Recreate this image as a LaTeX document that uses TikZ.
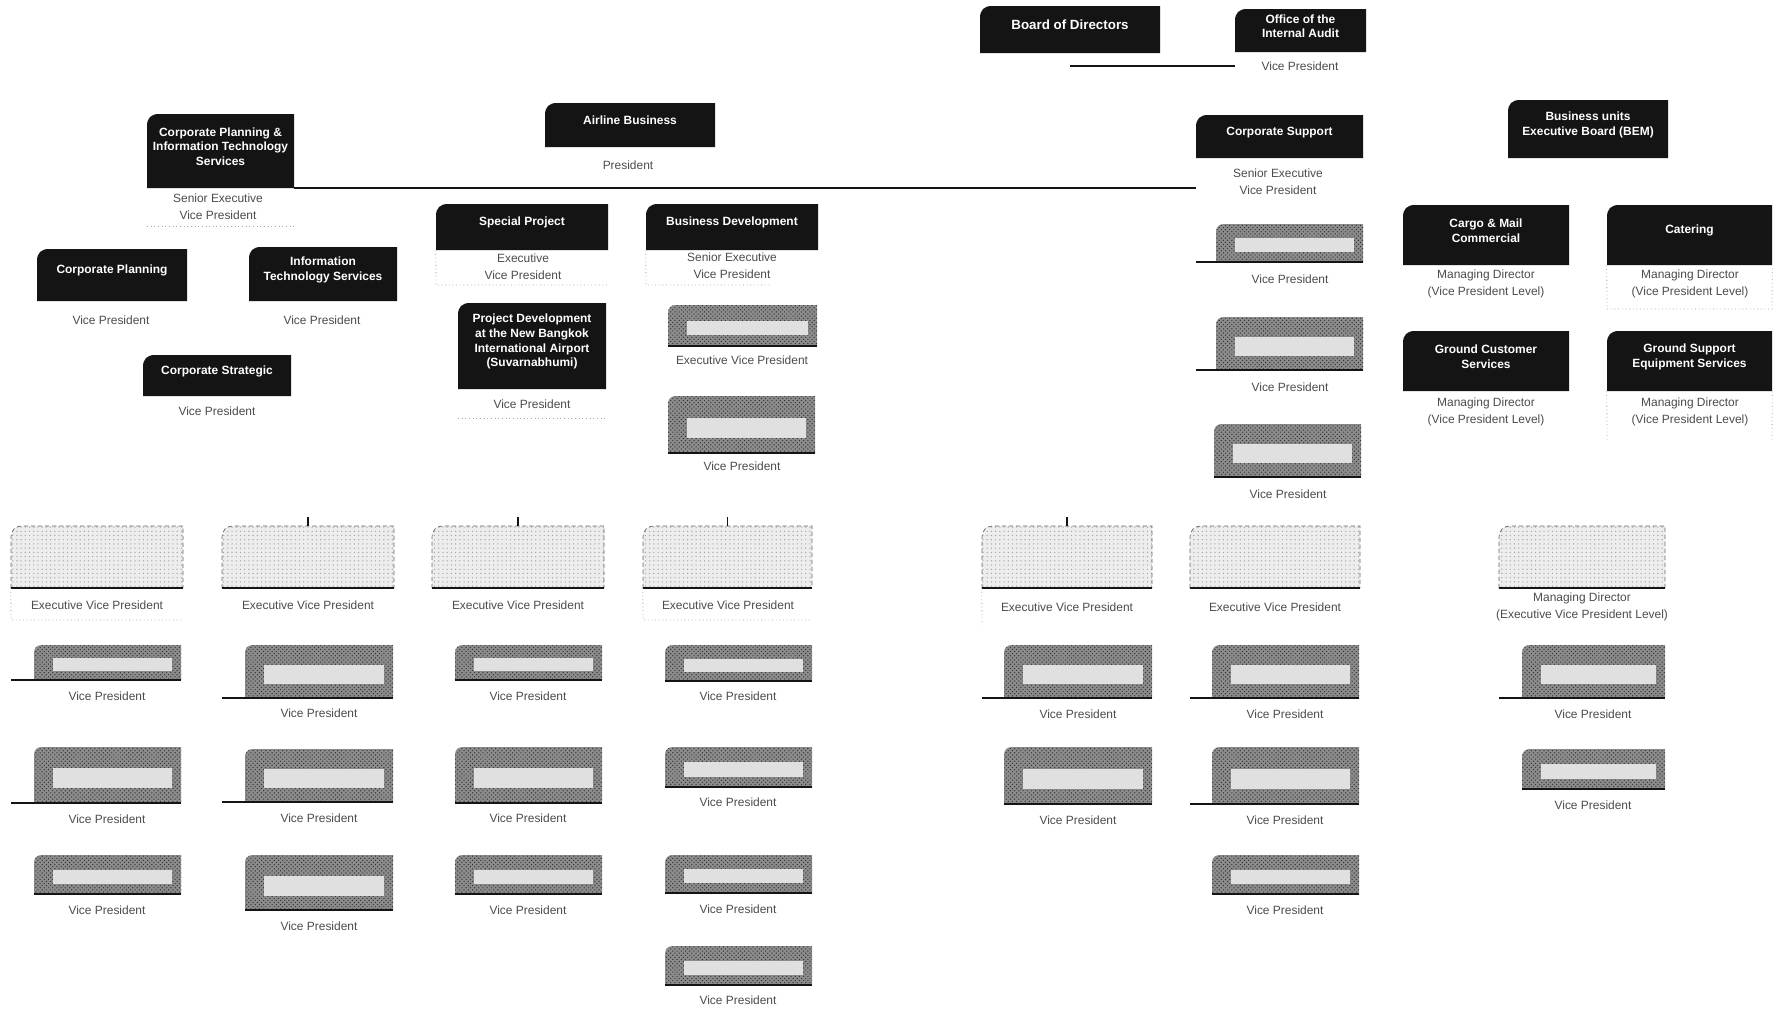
\documentclass[tikz,border=0pt]{standalone}
\usepackage{fontspec}
\setmainfont{Liberation Sans}
\usetikzlibrary{fit,calc,patterns}
\definecolor{ink}{gray}{0.08}
\definecolor{lbltxt}{gray}{0.3}
\tikzset{
  dtxt/.style={inner sep=0pt, text=white, font=\fontsize{8.5}{10.5}\selectfont\bfseries, align=center},
  lbl/.style={inner sep=0pt, text=lbltxt, font=\fontsize{8.5}{12}\selectfont, align=center},
  conn/.style={line width=1.2pt, draw=ink},
  faint/.style={dotted, draw=gray!70, line width=0.6pt},
}
% dark title box: name, x1, y1, x2, y2, text
\newcommand\DBox[6]{%
  \fill[ink] (#2,#5) -- (#2,#3+12) .. controls (#2,#3+4) and (#2+4,#3) .. (#2+12,#3) -- (#4,#3) -- (#4,#5) -- cycle;
  \path (#2,#3) coordinate (#1-a) (#4,#5) coordinate (#1-b);
  \node[dtxt, fit=(#1-a)(#1-b)] (#1) {#6};
}
% grey (illegible) vice-president box
\newcommand\GBox[5]{%
  \fill[black!45] (#2,#5) -- (#2,#3+8) .. controls (#2,#3+3) and (#2+3,#3) .. (#2+8,#3) -- (#4,#3) -- (#4,#5) -- cycle;
  \fill[pattern=crosshatch dots, pattern color=black!80] (#2,#5) -- (#2,#3+8) .. controls (#2,#3+3) and (#2+3,#3) .. (#2+8,#3) -- (#4,#3) -- (#4,#5) -- cycle;
  \fill[black!12] ({#2+0.13*(#4-#2)},{#3+0.38*(#5-#3)}) rectangle ({#4-0.06*(#4-#2)},{#3+0.74*(#5-#3)});
  \path (#2,#3) coordinate (#1-a) (#4,#5) coordinate (#1-b);
  \node[fit=(#1-a)(#1-b), inner sep=0pt] (#1) {};
  \draw[conn] (#1.south west) -- (#1.south east);
}
% light executive box
\newcommand\EBox[5]{%
  \fill[black!7] (#2,#5) -- (#2,#3+12) .. controls (#2,#3+4) and (#2+4,#3) .. (#2+12,#3) -- (#4,#3) -- (#4,#5) -- cycle;
  \fill[pattern=dots, pattern color=black!35] (#2,#5) -- (#2,#3+12) .. controls (#2,#3+4) and (#2+4,#3) .. (#2+12,#3) -- (#4,#3) -- (#4,#5) -- cycle;
  \draw[black!60, densely dashed, line width=0.5pt] (#2,#5) -- (#2,#3+12) .. controls (#2,#3+4) and (#2+4,#3) .. (#2+12,#3) -- (#4,#3) -- (#4,#5);
  \path (#2,#3) coordinate (#1-a) (#4,#5) coordinate (#1-b);
  \node[fit=(#1-a)(#1-b), inner sep=0pt] (#1) {};
  \draw[conn] (#1.south west) -- (#1.south east);
}
\begin{document}
\begin{tikzpicture}[x=0.025cm, y=-0.025cm]
\fill[white] (0,0) rectangle (1774,1008);
\useasboundingbox (0,0) rectangle (1774,1008);

% ---- top
\DBox{board}{980}{6}{1160}{53}{\fontsize{9.5}{11}\selectfont Board of Directors}
\DBox{audit}{1235}{9}{1366}{52}{Office of the\\Internal Audit}
\node[lbl] (auditl) at (1300,66) {Vice President};
\draw[conn] (board.south |- auditl) -- (auditl -| audit.west);

% ---- level 1
\DBox{cpit}{147}{114}{294}{188}{Corporate Planning \&\\Information Technology\\Services}
\node[lbl] (cpitl) at (218,207) {Senior Executive\\Vice President};
\DBox{airline}{545}{103}{715}{147}{Airline Business}
\node[lbl] (airl) at (628,165) {President};
\DBox{cs}{1196}{115}{1363}{158}{Corporate Support}
\node[lbl] (csl) at (1278,182) {Senior Executive\\Vice President};
\DBox{bem}{1508}{100}{1668}{158}{Business units\\Executive Board (BEM)}
\draw[conn] (cpit.south east) -- (cpit.south east -| cs.west);

% ---- corporate planning & IT
\DBox{cp}{37}{249}{187}{301}{Corporate Planning}
\node[lbl] (cpl) at (111,320) {Vice President};
\DBox{its}{249}{247}{397}{301}{Information\\Technology Services}
\node[lbl] (itsl) at (322,320) {Vice President};
\DBox{cstr}{143}{355}{291}{396}{Corporate Strategic}
\node[lbl] (cstrl) at (217,411) {Vice President};

% ---- airline business
\DBox{sp}{436}{204}{608}{250}{Special Project}
\node[lbl] (spl) at (523,267) {Executive\\Vice President};
\DBox{bd}{646}{204}{818}{250}{Business Development}
\node[lbl] (bdl) at (732,266) {Senior Executive\\Vice President};
\DBox{pd}{458}{303}{606}{389}{Project Development\\at the New Bangkok\\International Airport\\(Suvarnabhumi)}
\node[lbl] (pdl) at (532,404) {Vice President};
\GBox{bd1}{668}{305}{817}{346}
\node[lbl] (bd1l) at (742,360) {Executive Vice President};
\GBox{bd2}{668}{396}{815}{453}
\node[lbl] (bd2l) at (742,466) {Vice President};
\draw[faint] (sp.south west) -- (436,285) -- (608,285);
\draw[faint] (bd.south west) -- (646,285) -- (770,285);
\draw[faint] (458,418) -- (606,418);
\draw[faint] (147,226) -- (294,226);

% ---- corporate support
\GBox{cs1}{1216}{224}{1363}{262}
\node[lbl] (cs1l) at (1290,279) {Vice President};
\GBox{cs2}{1216}{317}{1363}{370}
\node[lbl] (cs2l) at (1290,387) {Vice President};
\GBox{cs3}{1214}{424}{1361}{477}
\node[lbl] (cs3l) at (1288,494) {Vice President};
\draw[conn] (cs1.south) -- (cs1.south -| cs.west);
\draw[conn] (cs2.south) -- (cs2.south -| cs.west);

% ---- business units
\DBox{cargo}{1403}{205}{1569}{265}{Cargo \& Mail\\Commercial}
\node[lbl] (cargol) at (1486,284) {Managing Director\\(Vice President Level)};
\DBox{cat}{1607}{205}{1772}{265}{Catering}
\node[lbl] (catl) at (1690,284) {Managing Director\\(Vice President Level)};
\DBox{gcs}{1403}{331}{1569}{391}{Ground Customer\\Services}
\node[lbl] (gcsl) at (1486,412) {Managing Director\\(Vice President Level)};
\DBox{gse}{1607}{331}{1772}{391}{Ground Support\\Equipment Services}
\node[lbl] (gsel) at (1690,412) {Managing Director\\(Vice President Level)};
\draw[faint] (cat.south west) -- (1607,309) -- (1772,309) -- (cat.south east);
\draw[faint] (gse.south west) -- (1607,440);
\draw[faint] (gse.south east) -- (1772,440);

% ---- bottom: executive boxes
\EBox{e1}{11}{526}{183}{588}
\node[lbl] (e1l) at (97,605) {Executive Vice President};
\EBox{e2}{222}{526}{394}{588}
\node[lbl] (e2l) at (308,605) {Executive Vice President};
\EBox{e3}{432}{526}{604}{588}
\node[lbl] (e3l) at (518,605) {Executive Vice President};
\EBox{e4}{643}{526}{812}{588}
\node[lbl] (e4l) at (728,605) {Executive Vice President};
\EBox{e5}{982}{526}{1152}{588}
\node[lbl] (e5l) at (1067,607) {Executive Vice President};
\EBox{e6}{1190}{526}{1360}{588}
\node[lbl] (e6l) at (1275,607) {Executive Vice President};
\EBox{e7}{1499}{526}{1665}{588}
\node[lbl] (e7l) at (1582,607) {Managing Director\\(Executive Vice President Level)};
\foreach \e in {e2,e3,e4,e5}{\draw[conn] (\e.north) -- ++(0,-9);}
\draw[faint] (e1.south west) -- (11,620) -- (183,620);
\draw[faint] (e4.south west) -- (643,620) -- (812,620);
\draw[faint] (e5.south west) -- (982,625);

% column 1
\GBox{a1}{34}{645}{181}{680}   \node[lbl] (a1l) at (107,696) {Vice President};
\GBox{a2}{34}{747}{181}{803}   \node[lbl] (a2l) at (107,819) {Vice President};
\GBox{a3}{34}{855}{181}{894}   \node[lbl] (a3l) at (107,910) {Vice President};
\draw[conn] (a1.south) -- (a1.south -| e1.west);
\draw[conn] (a2.south) -- (a2.south -| e1.west);
% column 2
\GBox{b1}{245}{645}{393}{698}  \node[lbl] (b1l) at (319,713) {Vice President};
\GBox{b2}{245}{749}{393}{802}  \node[lbl] (b2l) at (319,818) {Vice President};
\GBox{b3}{245}{855}{393}{910}  \node[lbl] (b3l) at (319,926) {Vice President};
\draw[conn] (b1.south) -- (b1.south -| e2.west);
\draw[conn] (b2.south) -- (b2.south -| e2.west);
% column 3
\GBox{c1}{455}{645}{602}{680}  \node[lbl] (c1l) at (528,696) {Vice President};
\GBox{c2}{455}{747}{602}{803}  \node[lbl] (c2l) at (528,818) {Vice President};
\GBox{c3}{455}{855}{602}{894}  \node[lbl] (c3l) at (528,910) {Vice President};
% column 4
\GBox{d1}{665}{645}{812}{681}  \node[lbl] (d1l) at (738,696) {Vice President};
\GBox{d2}{665}{747}{812}{787}  \node[lbl] (d2l) at (738,802) {Vice President};
\GBox{d3}{665}{855}{812}{893}  \node[lbl] (d3l) at (738,909) {Vice President};
\GBox{d4}{665}{946}{812}{985}  \node[lbl] (d4l) at (738,1000) {Vice President};
% column 5
\GBox{f1}{1004}{645}{1152}{698} \node[lbl] (f1l) at (1078,714) {Vice President};
\GBox{f2}{1004}{747}{1152}{804} \node[lbl] (f2l) at (1078,820) {Vice President};
\draw[conn] (f1.south) -- (f1.south -| e5.west);
% column 6
\GBox{g1}{1212}{645}{1359}{698} \node[lbl] (g1l) at (1285,714) {Vice President};
\GBox{g2}{1212}{747}{1359}{804} \node[lbl] (g2l) at (1285,820) {Vice President};
\GBox{g3}{1212}{855}{1359}{894} \node[lbl] (g3l) at (1285,910) {Vice President};
\draw[conn] (g1.south) -- (g1.south -| e6.west);
\draw[conn] (g2.south) -- (g2.south -| e6.west);
% column 7
\GBox{h1}{1522}{645}{1665}{698} \node[lbl] (h1l) at (1593,714) {Vice President};
\GBox{h2}{1522}{749}{1665}{789} \node[lbl] (h2l) at (1593,805) {Vice President};
\draw[conn] (h1.south) -- (h1.south -| e7.west);
\end{tikzpicture}
\end{document}
